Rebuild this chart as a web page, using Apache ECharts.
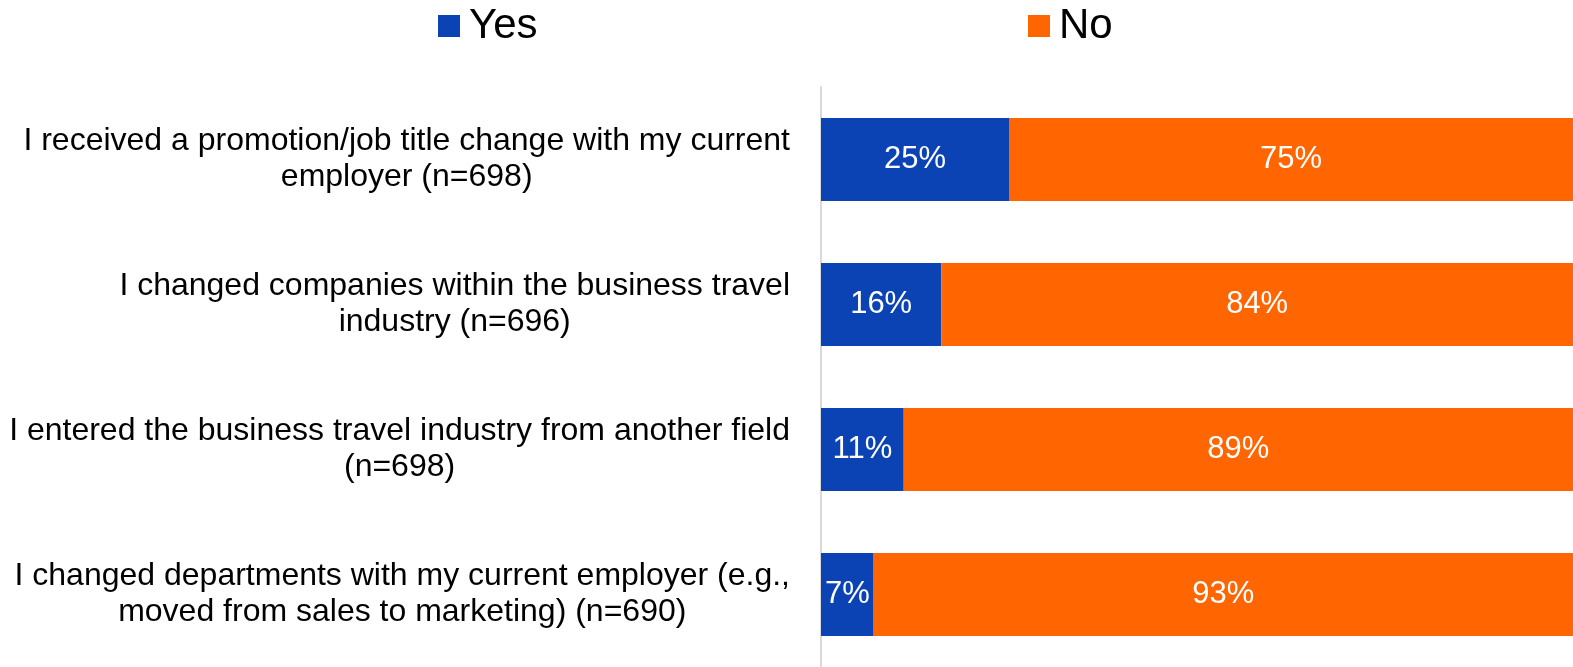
<!DOCTYPE html>
<html>
<head>
<meta charset="utf-8">
<title>Career changes</title>
<script src="https://cdn.jsdelivr.net/npm/echarts@6/dist/echarts.min.js"></script>
<style>
  html, body { margin: 0; padding: 0; background: #ffffff; }
  #chart { width: 1573px; height: 667px; }
</style>
</head>
<body>
<div id="chart"></div>
<script>
// Survey statements, wrapped the way they are shown on the axis
const categories = [
  'I received a promotion/job title change with my current\nemployer (n=698)',
  'I changed companies within the business travel\nindustry (n=696)',
  'I entered the business travel industry from another field\n(n=698)',
  'I changed departments with my current employer (e.g.,\nmoved from sales to marketing) (n=690)'
];
const seriesNames = ['Yes', 'No'];
const yesValues = [25, 16, 11, 7];
const noValues = [75, 84, 89, 93];

const FONT = '"Liberation Sans", Arial, Helvetica, sans-serif';
const BLUE = '#0b43b5';
const ORANGE = '#ff6500';

const chart = echarts.init(document.getElementById('chart'), null, { renderer: 'canvas' });

const barLabel = {
  show: true,
  position: 'inside',
  color: '#ffffff',
  fontFamily: FONT,
  fontSize: 31,
  formatter: p => p.value + '%'
};

// one legend block per series so each key sits at its own spot
function legendAt(name, left) {
  return {
    data: [name],
    left: left,
    top: 0,
    itemWidth: 22,
    itemHeight: 22,
    icon: 'rect',
    textStyle: { fontFamily: FONT, fontSize: 42, color: '#000000', padding: [0, 0, 0, 4] }
  };
}

chart.setOption({
  backgroundColor: '#ffffff',
  animation: false,
  textStyle: { fontFamily: FONT },
  legend: [legendAt(seriesNames[0], 433), legendAt(seriesNames[1], 1023)],
  grid: { left: 821, right: -13, top: 87, height: 586, containLabel: false },
  xAxis: {
    type: 'value',
    min: 0,
    max: 100,
    show: false,
    splitLine: { show: false }
  },
  yAxis: {
    type: 'category',
    data: categories,
    inverse: true,
    axisTick: { show: false },
    axisLine: { show: true, lineStyle: { color: '#d9d9d9', width: 2 } },
    axisLabel: {
      margin: 31,
      align: 'right',
      fontFamily: FONT,
      fontSize: 32,
      color: '#000000',
      // each wrapped line is centred inside the label block
      formatter: v => v.split('\n').map(line => '{c|' + line + '}').join('\n'),
      rich: {
        c: { align: 'center', fontFamily: FONT, fontSize: 32, lineHeight: 36, color: '#000000' }
      }
    }
  },
  series: [
    {
      name: seriesNames[0],
      type: 'bar',
      stack: 'total',
      barWidth: 83,
      itemStyle: { color: BLUE },
      label: barLabel,
      data: yesValues
    },
    {
      name: seriesNames[1],
      type: 'bar',
      stack: 'total',
      barWidth: 83,
      itemStyle: { color: ORANGE },
      label: barLabel,
      data: noValues
    }
  ]
});
</script>
</body>
</html>
